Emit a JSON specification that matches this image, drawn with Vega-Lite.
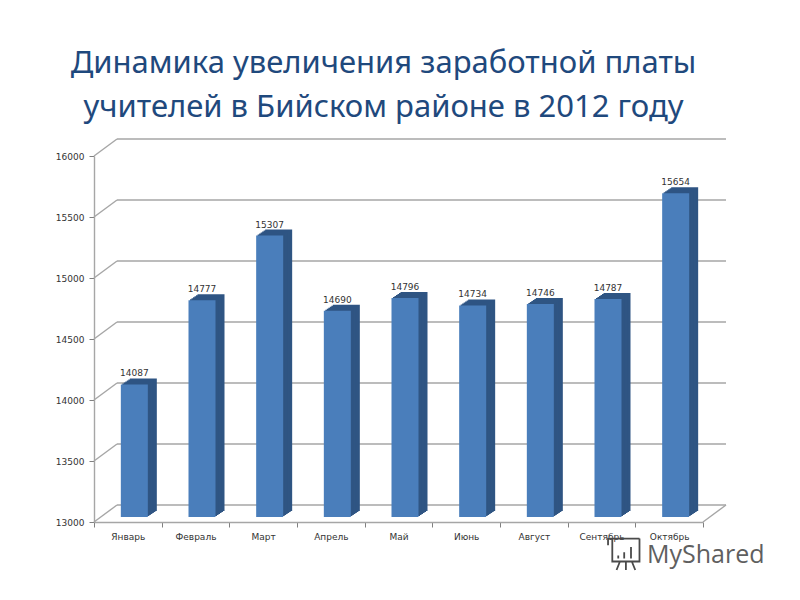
{
  "$schema": "https://vega.github.io/schema/vega-lite/v6.json",
  "description": "Динамика увеличения заработной платы учителей в Бийском районе в 2012 году",
  "width": 609,
  "height": 366,
  "autosize": "none",
  "padding": {"left": 94, "top": 156, "right": 97, "bottom": 78},
  "background": "white",
  "config": {
    "view": {"stroke": null},
    "font": "DejaVu Sans",
    "axisY": {
      "grid": false,
      "tickCount": 6,
      "labelFontSize": 9,
      "labelColor": "#333333",
      "labelPadding": 5,
      "domainColor": "#a6a6a6",
      "domainWidth": 1.4,
      "tickColor": "#808080",
      "tickSize": 5
    }
  },
  "title": {
    "text": ["Динамика увеличения заработной платы", "учителей в Бийском районе в 2012 году"],
    "font": "Noto Sans",
    "fontSize": 31,
    "fontWeight": "normal",
    "color": "#1f497d",
    "lineHeight": 44,
    "anchor": "middle",
    "frame": "group",
    "dx": -15,
    "offset": 14
  },
  "datasets": {
    "salary": [
      {"month": "Январь", "value": 14087},
      {"month": "Февраль", "value": 14777},
      {"month": "Март", "value": 15307},
      {"month": "Апрель", "value": 14690},
      {"month": "Май", "value": 14796},
      {"month": "Июнь", "value": 14734},
      {"month": "Август", "value": 14746},
      {"month": "Сентябрь", "value": 14787},
      {"month": "Октябрь", "value": 15654}
    ],
    "levels": [
      {"level": 13000},
      {"level": 13500},
      {"level": 14000},
      {"level": 14500},
      {"level": 15000},
      {"level": 15500},
      {"level": 16000}
    ]
  },
  "layer": [
    {
      "data": {"name": "levels"},
      "layer": [
        {
          "mark": {"type": "rule", "color": "#a6a6a6", "strokeWidth": 1.4, "xOffset": 23, "x2Offset": 23, "yOffset": -17},
          "encoding": {
            "x": {"datum": 0, "type": "quantitative", "scale": {"domain": [0, 1]}, "axis": null},
            "x2": {"datum": 1},
            "y": {
              "field": "level",
              "type": "quantitative",
              "scale": {"domain": [13000, 16000], "nice": false, "zero": false},
              "axis": {"title": null, "format": "d"}
            }
          }
        },
        {
          "mark": {"type": "rule", "color": "#a6a6a6", "strokeWidth": 1.4, "x2Offset": 23, "y2Offset": -17},
          "encoding": {
            "x": {"datum": 0, "type": "quantitative", "scale": {"domain": [0, 1]}, "axis": null},
            "x2": {"datum": 0},
            "y": {"field": "level", "type": "quantitative", "axis": {"title": null, "format": "d"}},
            "y2": {"field": "level"}
          }
        },
        {
          "transform": [{"filter": "datum.level == 13000"}],
          "mark": {"type": "rule", "color": "#a6a6a6", "strokeWidth": 1.4, "x2Offset": 23, "y2Offset": -17},
          "encoding": {
            "x": {"datum": 1, "type": "quantitative", "scale": {"domain": [0, 1]}, "axis": null},
            "x2": {"datum": 1},
            "y": {"field": "level", "type": "quantitative", "axis": {"title": null, "format": "d"}},
            "y2": {"field": "level"}
          }
        }
      ]
    },
    {
      "data": {"name": "salary"},
      "encoding": {
        "x": {
          "field": "month",
          "type": "nominal",
          "sort": null,
          "scale": {"paddingInner": 0, "paddingOuter": 0},
          "axis": {
            "title": null,
            "labelAngle": 0,
            "labelFontSize": 9,
            "labelColor": "#333333",
            "labelPadding": 5,
            "domainColor": "#a6a6a6",
            "domainWidth": 1.4,
            "tickColor": "#808080",
            "tickSize": 5,
            "tickBand": "extent"
          }
        },
        "y": {
          "field": "value",
          "type": "quantitative",
          "scale": {"domain": [13000, 16000], "nice": false, "zero": false},
          "axis": {"title": null, "format": "d"}
        }
      },
      "layer": [
        {"mark": {"type": "bar", "size": 27, "color": "#2f5583", "xOffset": 15.5, "yOffset": -11, "y2Offset": -11}, "encoding": {"y2": {"datum": 13000}}},
        {"mark": {"type": "bar", "size": 27, "color": "#2f5583", "xOffset": 14, "yOffset": -10, "y2Offset": -10}, "encoding": {"y2": {"datum": 13000}}},
        {"mark": {"type": "bar", "size": 27, "color": "#2f5583", "xOffset": 12.5, "yOffset": -9, "y2Offset": -9}, "encoding": {"y2": {"datum": 13000}}},
        {"mark": {"type": "bar", "size": 27, "color": "#2f5583", "xOffset": 11, "yOffset": -8, "y2Offset": -8}, "encoding": {"y2": {"datum": 13000}}},
        {"mark": {"type": "bar", "size": 27, "color": "#2f5583", "xOffset": 9.5, "yOffset": -7, "y2Offset": -7}, "encoding": {"y2": {"datum": 13000}}},
        {"mark": {"type": "bar", "size": 27, "color": "#2f5583", "xOffset": 8, "yOffset": -6, "y2Offset": -6}, "encoding": {"y2": {"datum": 13000}}},
        {"mark": {"type": "bar", "size": 27, "color": "#4a7ebb", "xOffset": 6.5, "yOffset": -5, "y2Offset": -5}, "encoding": {"y2": {"datum": 13000}}},
        {
          "mark": {"type": "text", "fontSize": 9, "color": "#333333", "xOffset": 6.5, "yOffset": -16},
          "encoding": {"text": {"field": "value", "type": "quantitative", "format": "d"}}
        }
      ]
    },
    {
      "data": {"values": [{"brand": "MyShared"}]},
      "layer": [
        {
          "mark": {"type": "text", "font": "Open Sans", "fontSize": 25, "color": "#5f5f5f", "align": "left", "baseline": "alphabetic"},
          "encoding": {
            "x": {"datum": 0.908, "type": "quantitative", "scale": {"domain": [0, 1]}, "axis": null},
            "y": {"datum": 12664, "type": "quantitative", "axis": {"title": null, "format": "d"}},
            "text": {"field": "brand"}
          }
        },
        {
          "mark": {
            "type": "point",
            "filled": false,
            "color": "#4a4a4a",
            "strokeWidth": 1.8,
            "opacity": 1,
            "size": 1156,
            "shape": "M-1 -0.45L-1 -0.85L0.85 -0.85M-0.75 -0.85L-0.75 0.5L0.85 0.5L0.85 -0.85M-0.4 0.32L-0.4 0.15M-0.05 0.32L-0.05 -0.05M0.35 0.32L0.35 -0.35M-0.3 0.5L-0.5 1M0.05 0.5L0.05 1M0.4 0.5L0.6 1"
          },
          "encoding": {
            "x": {"datum": 0.872, "type": "quantitative", "scale": {"domain": [0, 1]}, "axis": null},
            "y": {"datum": 12746, "type": "quantitative", "axis": {"title": null, "format": "d"}}
          }
        }
      ]
    }
  ],
  "resolve": {"scale": {"x": "independent"}}
}
